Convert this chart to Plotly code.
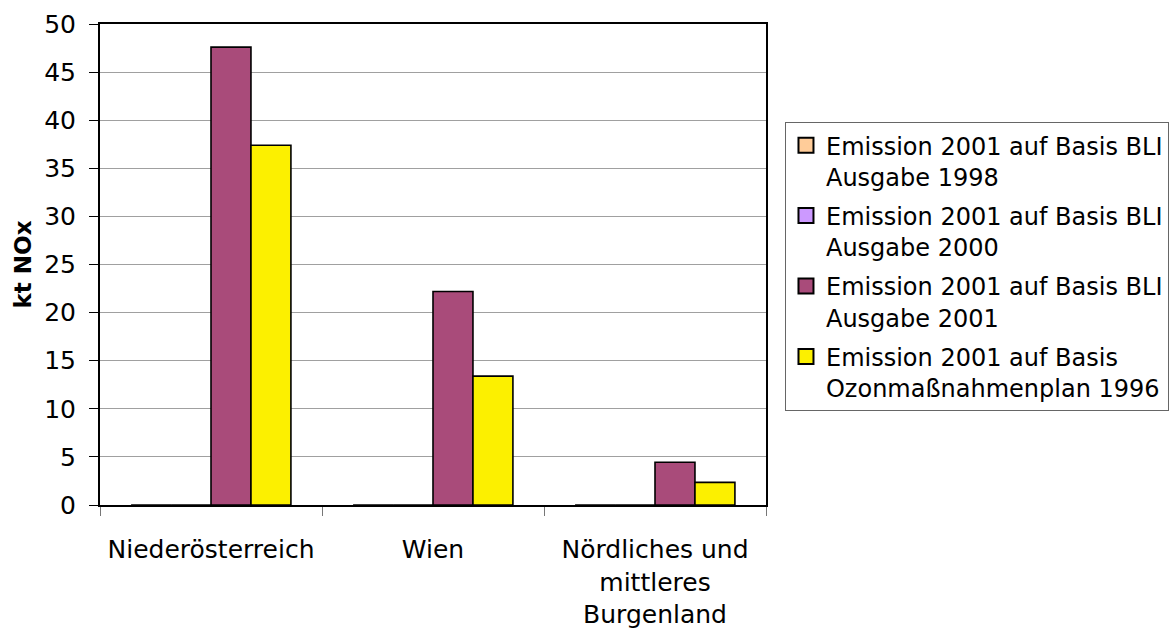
import plotly.graph_objects as go

categories = ["Niederösterreich", "Wien", "Nördliches und<br>mittleres<br>Burgenland"]
series_names = [
    "Emission 2001 auf Basis BLI<br>Ausgabe 1998",
    "Emission 2001 auf Basis BLI<br>Ausgabe 2000",
    "Emission 2001 auf Basis BLI<br>Ausgabe 2001",
    "Emission 2001 auf Basis<br>Ozonmaßnahmenplan 1996",
]
bli_1998 = [0, 0, 0]
bli_2000 = [0, 0, 0]
bli_2001 = [47.6, 22.2, 4.45]
ozon_1996 = [37.4, 13.4, 2.35]
series_values = [bli_1998, bli_2000, bli_2001, ozon_1996]
colors = ["#FFCC99", "#CC99FF", "#A94B7A", "#FCF000"]
y_ticks = [0, 5, 10, 15, 20, 25, 30, 35, 40, 45, 50]

FONT = "DejaVu Sans"

fig = go.Figure()
for i, (name, vals, col) in enumerate(zip(series_names, series_values, colors)):
    fig.add_trace(go.Bar(
        x=categories, y=vals, name=name, showlegend=False, legendgroup=f"g{i}",
        marker=dict(color=col, line=dict(color="black", width=1.6)),
    ))
# legend entries (square swatches like the original)
for i, (name, col) in enumerate(zip(series_names, colors)):
    fig.add_trace(go.Scatter(
        x=[None], y=[None], mode="markers", name=name, legendgroup=f"g{i}",
        marker=dict(symbol="square", size=15, color=col,
                    line=dict(color="black", width=2)),
        hoverinfo="skip",
    ))

fig.update_layout(
    width=1174, height=637,
    margin=dict(l=100, r=408, t=24, b=132, autoexpand=False),
    paper_bgcolor="white", plot_bgcolor="white",
    barmode="group", bargap=0.28, bargroupgap=0,
    font=dict(family=FONT, size=25, color="black"),
    showlegend=True,
    legend=dict(
        x=1.0285, xanchor="left", y=0.796, yanchor="top",
        bordercolor="#666666", borderwidth=1,
        font=dict(family=FONT, size=24, color="black"),
        valign="top", tracegroupgap=5, itemwidth=30, itemsizing="trace",
        itemclick=False, itemdoubleclick=False,
    ),
)
fig.update_xaxes(
    type="category", tickson="boundaries", ticks="outside", ticklen=9,
    tickcolor="#777777", showline=True, linecolor="black", linewidth=2,
    mirror=True, showgrid=False, tickfont=dict(family=FONT, size=25),
    ticklabelstandoff=21, automargin=False,
)
fig.update_yaxes(
    range=[0, 50], tickvals=y_ticks, ticks="outside", ticklen=9,
    tickcolor="black", showline=True, linecolor="black", linewidth=2,
    mirror=True, showgrid=True, gridcolor="#A0A0A0", gridwidth=1,
    zeroline=False, tickfont=dict(family=FONT, size=25),
    ticklabelstandoff=8, automargin=False,
    title=dict(text="<b>kt NOx</b>", font=dict(family=FONT, size=23), standoff=6),
)

fig.write_html(
    "out.html",
    config={"displayModeBar": False},
    post_script="document.body.style.margin='0';document.body.style.padding='0';",
)
